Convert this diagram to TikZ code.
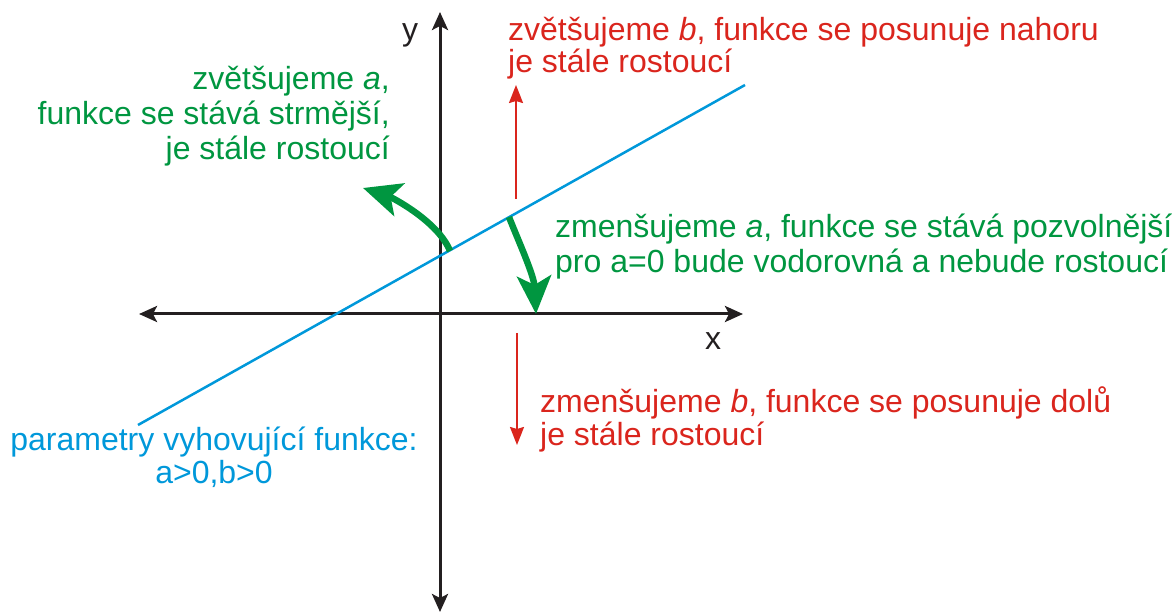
\documentclass[tikz,border=0pt]{standalone}
\usepackage{fontspec}
\setmainfont{Liberation Sans}
\usetikzlibrary{arrows.meta}
\definecolor{cred}{RGB}{218,37,29}
\definecolor{cgreen}{RGB}{0,150,64}
\definecolor{cblue}{RGB}{0,152,218}
\definecolor{cblack}{RGB}{35,31,32}
\begin{document}
\begin{tikzpicture}[x=1pt,y=-1pt,
  axistip/.tip={Stealth[length=18pt,width=16pt,inset=4pt]},
  redtip/.tip={Stealth[length=18pt,width=14pt,inset=2pt]},
  greentip/.tip={Stealth[length=38pt,width=34pt,inset=9pt]},
  axis/.style={draw=cblack,line width=3pt,axistip-axistip},
  graphline/.style={draw=cblue,line width=2.5pt},
  shiftarrow/.style={draw=cred,line width=2pt,-redtip},
  turnarrow/.style={draw=cgreen,line width=6.5pt,-greentip},
  lbl/.style={inner sep=0pt,font=\fontsize{32}{32.5}\selectfont},
  glbl/.style={inner sep=0pt,font=\fontsize{32}{35}\selectfont,text=cgreen},
  axlbl/.style={inner sep=0pt,font=\fontsize{32}{34}\selectfont,text=cblack}]
\useasboundingbox (0,0) rectangle (1173,612);
% axes
\coordinate (xl) at (139,314);
\coordinate (xr) at (743,314);
\coordinate (yb) at (440,612);
\coordinate (yt) at (440,12);
\draw[axis] (xl) -- (xr);
\draw[axis] (yb) -- (yt);
\node[axlbl,anchor=base] (ylab) at (410,41) {y};
\node[axlbl,anchor=base] (xlab) at (713,350) {x};
% graph line
\coordinate (la) at (138,425);
\coordinate (lb) at (745,85);
\draw[graphline] (la) -- (lb);
% red arrows
\coordinate (u0) at (516,199);
\coordinate (u1) at (516,85);
\coordinate (d0) at (517,333);
\coordinate (d1) at (517,445);
\draw[shiftarrow] (u0) -- (u1);
\draw[shiftarrow] (d0) -- (d1);
% green arrows
\coordinate (g0) at (450,251);
\coordinate (g1) at (363,188);
\coordinate (h0) at (509,217);
\coordinate (h1) at (536,314);
\draw[turnarrow] (g0) .. controls (438,221) and (391,197) .. (g1);
\draw[turnarrow] (h0) .. controls (518,240) and (534,275) .. (h1);
% labels (base anchor = baseline of last line)
\node[lbl,text=cred,anchor=base west,align=left] (tup) at (508,73)
  {zvětšujeme \textit{b}, funkce se posunuje nahoru\\je stále rostoucí};
\node[lbl,text=cred,anchor=base west,align=left] (tdown) at (540,445)
  {zmenšujeme \textit{b}, funkce se posunuje dolů\\je stále rostoucí};
\node[glbl,anchor=base east,align=right] (tsteep) at (390,160)
  {zvětšujeme \textit{a},\\funkce se stává strmější,\\je stále rostoucí};
\node[glbl,anchor=base west,align=left] (tflat) at (555,273)
  {zmenšujeme \textit{a}, funkce se stává pozvolnější\\pro a=0 bude vodorovná a nebude rostoucí};
\node[lbl,text=cblue,anchor=base,align=center] (tparam) at (214,483)
  {parametry vyhovující funkce:\\a>0,b>0};
\end{tikzpicture}
\end{document}
